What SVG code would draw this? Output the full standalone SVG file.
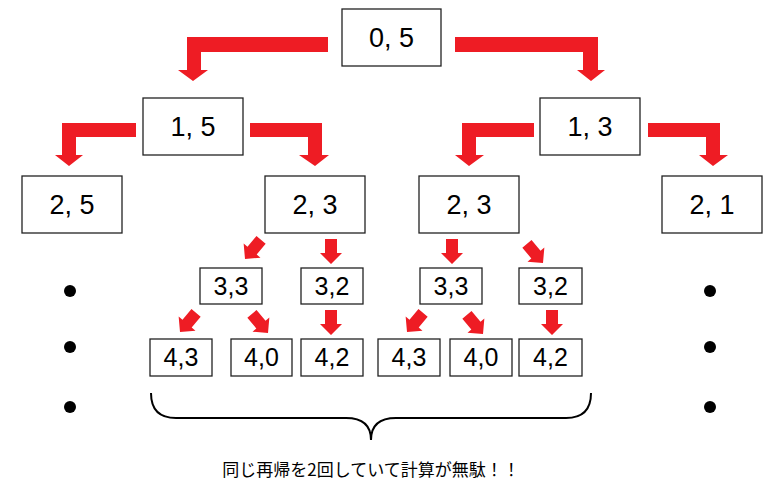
<svg xmlns="http://www.w3.org/2000/svg" width="781" height="503" viewBox="0 0 781 503">
<style>
.b{fill:#fff;stroke:#222;stroke-width:1.3}
.t{font-family:"Liberation Sans",Arial,sans-serif;font-size:27px;text-anchor:middle;fill:#000}
.s{font-size:25px}
.r{fill:#ee1c24}
.d{fill:#000}
</style>
<defs>
<path id="a" class="r" d="M-6,-25 h12 v14 h5 l-11,11 l-11,-11 h5 z"/>
</defs>
<g id="connectors">
<path class="r" d="M328,37 V52 H201 V70 H208 L193,81 L178,70 H187 V37 Z"/>
<path class="r" d="M455,37 V52 H583 V70 H577 L591,81 L605,70 H598 V37 Z"/>
<path class="r" d="M136,123 V137 H76 V155 H83 L69,166 L55,155 H62 V123 Z"/>
<path class="r" d="M250,123 V137 H308 V155 H299 L315,166 L329,155 H322 V123 Z"/>
<path class="r" d="M534,123 V137 H476 V155 H484 L469,166 L455,155 H462 V123 Z"/>
<path class="r" d="M648,123 V137 H706 V155 H699 L713,166 L728,155 H720 V123 Z"/>
<use href="#a" transform="translate(245,259) rotate(40)"/>
<use href="#a" transform="translate(331,264)"/>
<use href="#a" transform="translate(452,264)"/>
<use href="#a" transform="translate(543,263) rotate(-40)"/>
<use href="#a" transform="translate(180,332) rotate(40)"/>
<use href="#a" transform="translate(268,333) rotate(-40)"/>
<use href="#a" transform="translate(331,335)"/>
<use href="#a" transform="translate(407,332) rotate(40)"/>
<use href="#a" transform="translate(483,334) rotate(-40)"/>
<use href="#a" transform="translate(552,335)"/>
</g>
<g id="n05"><rect class="b" x="342" y="9" width="99" height="57"/><text class="t" x="391.5" y="47">0, 5</text></g>
<g id="n15"><rect class="b" x="143" y="98" width="100" height="57"/><text class="t" x="193" y="136">1, 5</text></g>
<g id="n13"><rect class="b" x="540" y="98" width="100" height="57"/><text class="t" x="590" y="136">1, 3</text></g>
<g id="n25"><rect class="b" x="22" y="176" width="100" height="57"/><text class="t" x="72" y="214">2, 5</text></g>
<g id="n23a"><rect class="b" x="265" y="176" width="100" height="57"/><text class="t" x="315" y="214">2, 3</text></g>
<g id="n23b"><rect class="b" x="419" y="176" width="100" height="57"/><text class="t" x="469" y="214">2, 3</text></g>
<g id="n21"><rect class="b" x="662" y="176" width="100" height="57"/><text class="t" x="712" y="214">2, 1</text></g>
<g id="n33a"><rect class="b" x="200" y="268" width="62" height="36"/><text class="t s" x="231" y="295">3,3</text></g>
<g id="n32a"><rect class="b" x="301" y="268" width="62" height="36"/><text class="t s" x="332" y="295">3,2</text></g>
<g id="n33b"><rect class="b" x="420" y="268" width="62" height="36"/><text class="t s" x="451" y="295">3,3</text></g>
<g id="n32b"><rect class="b" x="519" y="268" width="63" height="36"/><text class="t s" x="550.5" y="295">3,2</text></g>
<g id="n43a"><rect class="b" x="150" y="339" width="62" height="37"/><text class="t s" x="181" y="366">4,3</text></g>
<g id="n40a"><rect class="b" x="231" y="339" width="61" height="37"/><text class="t s" x="261.5" y="366">4,0</text></g>
<g id="n42a"><rect class="b" x="301" y="339" width="62" height="37"/><text class="t s" x="332" y="366">4,2</text></g>
<g id="n43b"><rect class="b" x="378" y="339" width="62" height="37"/><text class="t s" x="409" y="366">4,3</text></g>
<g id="n40b"><rect class="b" x="450" y="339" width="62" height="37"/><text class="t s" x="481" y="366">4,0</text></g>
<g id="n42b"><rect class="b" x="519" y="339" width="63" height="37"/><text class="t s" x="550.5" y="366">4,2</text></g>
<g id="dots">
<circle class="d" cx="70" cy="291" r="6"/><circle class="d" cx="70" cy="347" r="6"/><circle class="d" cx="70" cy="407" r="6"/>
<circle class="d" cx="710" cy="291" r="6"/><circle class="d" cx="710" cy="347" r="6"/><circle class="d" cx="710" cy="407" r="6"/>
</g>
<g id="brace">
<path d="M151,393 Q151,418 176,418 H346 Q371,418 371,440 Q371,418 396,418 H566 Q591,418 591,393" fill="none" stroke="#000" stroke-width="2"/>
<text x="371" y="476" style="font-family:'Noto Sans CJK JP','Noto Sans CJK SC',sans-serif;font-size:17px;text-anchor:middle">同じ再帰を2回していて計算が無駄！！</text>
</g>
</svg>
